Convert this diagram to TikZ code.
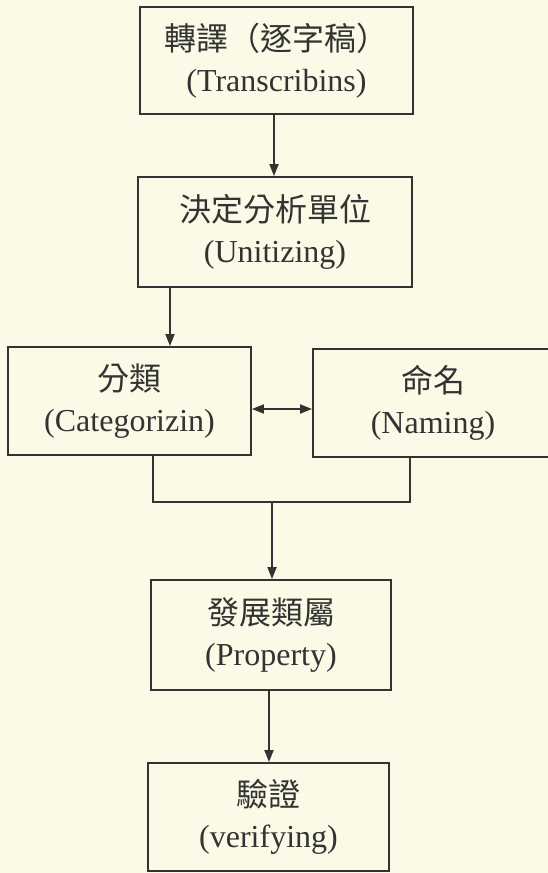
\documentclass[tikz,border=0pt]{standalone}
\usepackage{fontspec}
\setmainfont{Liberation Serif}
\newfontfamily\cjk{Noto Sans CJK TC}
\usetikzlibrary{arrows.meta}
\definecolor{paper}{HTML}{FAFAE6}
\definecolor{ink}{HTML}{333333}
\begin{document}
\begin{tikzpicture}[x=1pt,y=-1pt,
  box/.style 2 args={draw=ink, line width=1.9pt, inner sep=0pt, align=center, text=ink,
    minimum width=#1pt, minimum height=#2pt,
    font=\fontsize{32}{41}\selectfont},
  conn/.style={draw=ink, line width=1.9pt},
  arr/.style={conn, -{Triangle[length=12pt,width=9pt]}},
  darr/.style={conn, {Triangle[length=12pt,width=9pt]}-{Triangle[length=12pt,width=9pt]}}]
\fill[paper] (0,0) rectangle (548,873);
\useasboundingbox (0,0) rectangle (548,873);
\newcommand{\zh}[1]{{\cjk\fontsize{32}{41}\selectfont #1}}

\node[box={273}{107}] (b1) at (276.5,60.5) {\zh{轉譯（逐字稿）\hspace{12pt}}\\(Transcribins)};
\node[box={274}{110}] (b2) at (275,232) {\zh{決定分析單位}\\(Unitizing)};
\node[box={243}{108}] (b3) at (129.5,401) {\zh{分類}\\(Categorizin)};
\node[box={240}{108}] (b4) at (433,403) {\zh{命名}\\(Naming)};
\node[box={240}{110}] (b5) at (271,635) {\zh{發展類屬}\\(Property)};
\node[box={241}{108}] (b6) at (268.5,817) {\zh{驗證}\\(verifying)};

\coordinate (x1) at (274,0);
\coordinate (x2) at (170,0);
\coordinate (dy) at (0,409);
\coordinate (j1) at (153,502);
\coordinate (j2) at (410,502);
\coordinate (jm) at (272,502);
\coordinate (x4) at (269,0);

\draw[arr] (b1.south -| x1) -- (b2.north -| x1);
\draw[arr] (b2.south -| x2) -- (b3.north -| x2);
\draw[darr] (b3.east |- dy) -- (b4.west |- dy);
\draw[conn] (b3.south -| j1) -- (j1) -- (j2) -- (b4.south -| j2);
\draw[arr] (jm) -- (b5.north -| jm);
\draw[arr] (b5.south -| x4) -- (b6.north -| x4);
\end{tikzpicture}
\end{document}
